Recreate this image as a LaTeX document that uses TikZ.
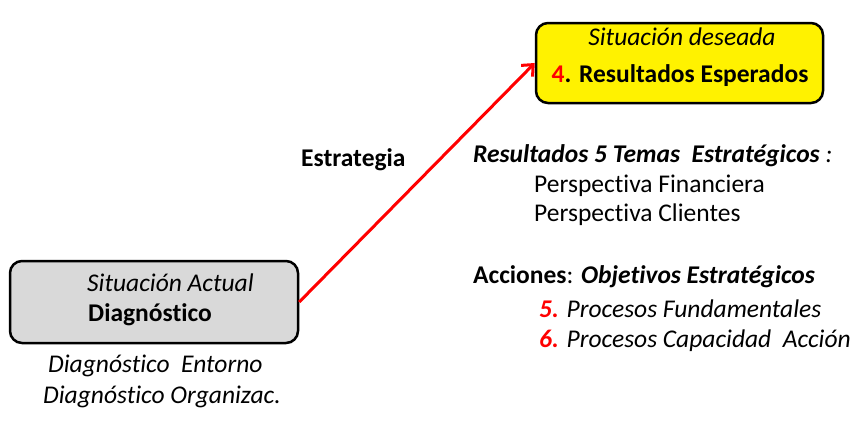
\documentclass[tikz,border=0pt]{standalone}
\usepackage{fontspec}
\setmainfont{Carlito}[Ligatures=NoCommon]
\usepackage{xcolor}
\usetikzlibrary{arrows.meta, positioning, calc}

\begin{document}
\begin{tikzpicture}[x=1pt,y=-1pt]
\tikzset{
  bx/.style={rectangle,rounded corners=12pt,draw=black,line width=2.5pt,minimum width=288pt,minimum height=82pt},
  tx/.style={inner sep=0pt,font=\fontsize{25.5}{30}\selectfont},
  ar/.style={-{Straight Barb[length=9pt,width=16pt,line width=3pt]},line width=3pt,draw=red}
}
\useasboundingbox (0,0) rectangle (863,426);
\node[bx,fill=black!15] (act) at (154,302) {};
\node[bx,fill=yellow,minimum width=287pt,minimum height=80pt] (des) at (679.5,63) {};
\node[tx,anchor=west] (actT) at (87,283) {\itshape Situación Actual};
\node[tx,anchor=west] (actD) at (88,315) {\bfseries Diagnóstico};
\node[tx,anchor=west] (ent) at (48,366) {\itshape Diagnóstico\ \ Entorno};
\node[tx,anchor=west] (org) at (43,397) {\itshape Diagnóstico Organizac.};
\node[tx] (desT) at (682,37) {\itshape Situación deseada};
\node[tx] (desR) at (680,76) {\bfseries\textcolor{red}{4}. Resultados Esperados};
\draw[ar] (act.east) -- (des.west);
\node[tx,anchor=west] (est) at (301,160) {\bfseries Estrategia};
% resultados
\node[tx,anchor=west] (res) at (473,156) {\textbf{\textit{Resultados 5 Temas\ \ Estratégicos}}\textit{ :}};
\node[tx,anchor=west] (fin) at (534,186) {Perspectiva Financiera};
\node[tx,anchor=west] (cli) at (534,215) {Perspectiva Clientes};
% acciones
\node[tx,anchor=west] (acc) at (473,277) {\textbf{Acciones}: \textbf{\textit{Objetivos Estratégicos}}};
\node[tx,anchor=west] (p5) at (539,309) {\itshape\textcolor{red}{\bfseries 5.} Procesos Fundamentales};
\node[tx,anchor=west] (p6) at (539,341) {\itshape\textcolor{red}{\bfseries 6.} Procesos Capacidad\ \ Acción};
\end{tikzpicture}
\end{document}
